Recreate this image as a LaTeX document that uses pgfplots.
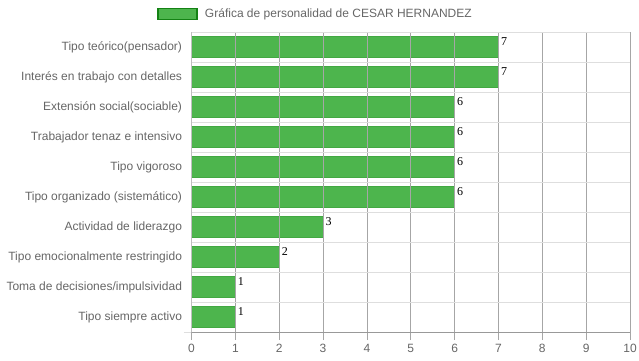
\documentclass[border=0pt]{standalone}
\usepackage{pgfplots}
\pgfplotsset{compat=1.18}
\usepackage{fontspec}
\setmainfont{Liberation Sans}
\newfontfamily\serifnum{Liberation Serif}
\definecolor{barg}{RGB}{77,181,77}
\definecolor{bard}{RGB}{66,168,66}
\definecolor{legd}{RGB}{20,130,20}
\definecolor{txt}{RGB}{102,102,102}
\begin{document}
\begin{tikzpicture}
\path[use as bounding box] (0pt,0pt) rectangle (639pt,360pt);
\begin{axis}[
  at={(191.5pt,28pt)}, anchor=south west,
  scale only axis, width=438.5pt, height=300pt,
  xbar, bar width=21pt,
  xmin=0, xmax=10, xtick={0,...,10},
  ymin=-0.5, ymax=9.5, y dir=reverse,
  ytick={0,...,9},
  yticklabels={Tipo teórico(pensador),Interés en trabajo con detalles,Extensión social(sociable),Trabajador tenaz e intensivo,Tipo vigoroso,Tipo organizado (sistemático),Actividad de liderazgo,Tipo emocionalmente restringido,Toma de decisiones/impulsividad,Tipo siempre activo},
  minor ytick={-0.5,0.5,...,9.5},
  ymajorgrids=false, yminorgrids=true, xmajorgrids=true,
  minor y grid style={draw=black!13, line width=0.8pt, shorten <=-8pt},
  major x grid style={draw=black!35, line width=0.8pt},
  axis x line*=bottom, axis y line*=left,
  axis line style={draw=black!40, line width=0.8pt, -},
  y axis line style={draw=black!25},
  tick align=outside,
  major tick length=8pt,
  ytick style={draw=none},
  xtick style={draw=black!35, line width=0.8pt},
  tick label style={font=\fontsize{12}{14}\selectfont, text=txt},
  yticklabel style={xshift=2pt},
  xticklabel style={yshift=-1pt},
  /pgf/number format/assume math mode=true,
  nodes near coords,
  every node near coord/.style={font=\serifnum\fontsize{12}{14}\selectfont, text=black, anchor=west, yshift=5pt, xshift=-1pt},
  legend style={at={(-0.078,1.06)}, anchor=west, draw=none, fill=none, inner sep=0pt, font=\fontsize{12}{14}\selectfont, text=txt, legend cell align=left},
  legend image code/.code={\draw[fill=barg, draw=legd, line width=1.5pt] (0pt,-5.5pt) rectangle (39pt,5.5pt);},
  axis on top,
  clip=false,
]
\addplot[fill=barg, draw=bard, line width=0.6pt] coordinates {
(7,0) (7,1) (6,2) (6,3) (6,4) (6,5) (3,6) (2,7) (1,8) (1,9)};
\addlegendentry{\hspace{5pt}Gráfica de personalidad de CESAR HERNANDEZ}
\end{axis}
\end{tikzpicture}
\end{document}
